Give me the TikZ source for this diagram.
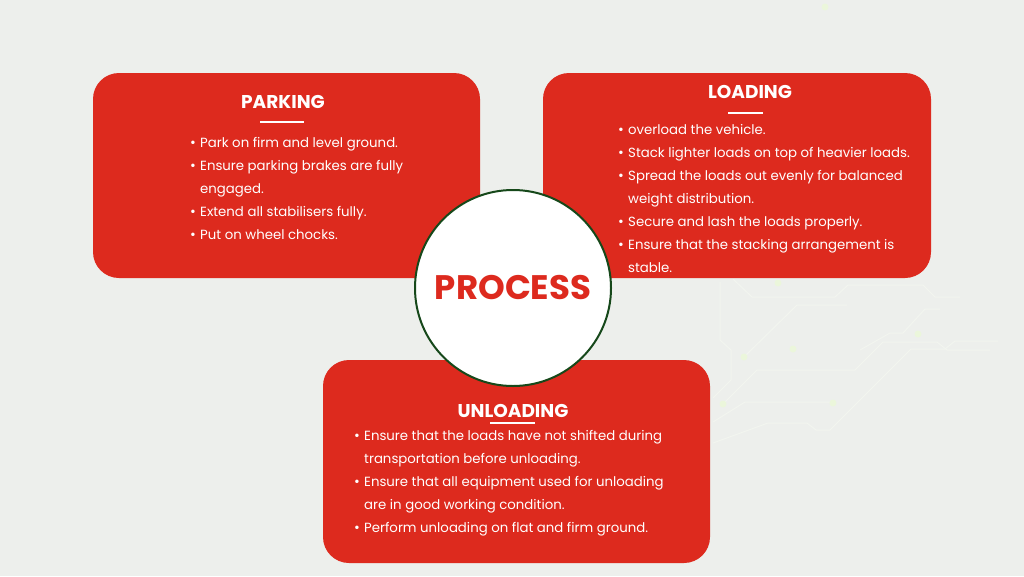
\documentclass[tikz,border=0pt]{standalone}
\usepackage{fontspec}
\setmainfont{Poppins}
\definecolor{cardred}{RGB}{221,42,30}
\definecolor{bgpaper}{RGB}{237,239,236}
\definecolor{trace}{RGB}{242,245,239}
\definecolor{padlime}{RGB}{235,246,219}
\definecolor{ringgreen}{RGB}{22,72,26}
\tikzstyle{card}=[fill=cardred, rounded corners=26pt]
\tikzstyle{head}=[text=white, font=\fontsize{18.5}{22}\selectfont\bfseries]
\tikzstyle{body}=[text=white, align=left, anchor=base west, inner sep=0, font=\fontsize{13.3}{23}\selectfont]
\tikzstyle{rule}=[white, line width=1.3pt]
\tikzstyle{wire}=[trace, line width=1pt]
\tikzstyle{pad}=[shape=circle, minimum size=7pt, fill=padlime, inner sep=0]
\newcommand{\blt}{\makebox[10pt][l]{\fontsize{14}{14}\selectfont\textbullet}}
\newcommand{\ind}{\hspace*{10pt}}

\begin{document}
\begin{tikzpicture}[x=1pt, y=-1pt]
\useasboundingbox (0,0) rectangle (1024,576);
\fill[bgpaper] (0,0) rectangle (1024,576);

% faint circuit traces in the background
\draw[wire] (733,279)--(752,297)--(835,297)--(848,285)--(923,285)--(935,297)--(960,297);
\draw[wire] (744,357)--(797,305)--(847,305);
\draw[wire] (723,404)--(757,370)--(855,370)--(883,342)--(937,342)--(947,350)--(990,350);
\draw[wire] (713,422)--(745,402)--(833,402);
\draw[wire] (713,443)--(768,423)--(807,423)--(816,430)--(830,430)--(911,349)--(945,349)--(955,341)--(998,341);
\draw[wire] (720,282)--(720,340)--(731,350)--(731,380)--(713,398);
\draw[wire] (860,350)--(890,333)--(903,333)--(925,309)--(940,309);
\node[pad] (p1) at (778,283) {};
\node[pad] (p2) at (793,349) {};
\node[pad] (p3) at (918,334) {};
\node[pad] (p4) at (833,403) {};
\node[pad] (p5) at (744,357) {};
\node[pad] (p6) at (723,404) {};
\node[pad] (p7) at (825,7) {};

% cards
\fill[card] (93,73) rectangle (480,278);
\fill[card] (543,73) rectangle (931,278);
\fill[card] (323,360) rectangle (710,563);

% parking (base = last line)
\node[head] (pkhead) at (283,102) {PARKING};
\draw[rule] (260,122)--(304,122);
\node[body] (pkbody) at (190,239) {\blt Park on firm and level ground.\\
\blt Ensure parking brakes are fully\\
\ind engaged.\\
\blt Extend all stabilisers fully.\\
\blt Put on wheel chocks.};

% loading
\node[head] (ldhead) at (750,92) {LOADING};
\draw[rule] (728,113)--(763,113);
\node[body] (ldbody) at (618,272) {\blt overload the vehicle.\\
\blt Stack lighter loads on top of heavier loads.\\
\blt Spread the loads out evenly for balanced\\
\ind weight distribution.\\
\blt Secure and lash the loads properly.\\
\blt Ensure that the stacking arrangement is\\
\ind stable.};

% unloading
\node[head] (ulhead) at (513,411) {UNLOADING};
\draw[rule] (490,423)--(535,423);
\node[body] (ulbody) at (354,532) {\blt Ensure that the loads have not shifted during\\
\ind transportation before unloading.\\
\blt Ensure that all equipment used for unloading\\
\ind are in good working condition.\\
\blt Perform unloading on flat and firm ground.};

% centre
\node[circle, draw=ringgreen, line width=2pt, fill=white, minimum size=196pt, inner sep=0,
  text=cardred, font=\fontsize{34}{40}\selectfont\bfseries] (proc) at (513,288) {PROCESS};
\end{tikzpicture}
\end{document}
